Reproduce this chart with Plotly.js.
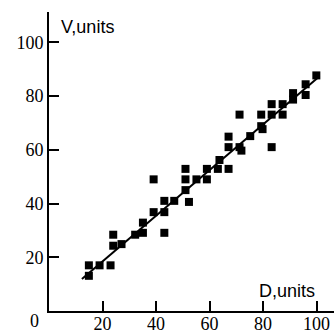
<!DOCTYPE html>
<html>
<head>
<meta charset="utf-8">
<script src="https://cdn.plot.ly/plotly-3.0.1.min.js"></script>
<style>html,body{margin:0;padding:0;background:#fff;}#chart{width:334px;height:333px;}</style>
</head>
<body>
<div id="chart"></div>
<script>
// Data
const dValues = [14.9, 18.9, 23.0, 14.9, 24.0, 24.0, 27.1, 32.2, 35.1, 35.1, 39.1, 39.1, 43.1, 43.1, 43.1, 46.8,
                 51.0, 51.0, 51.0, 52.3, 55.1, 59.0, 59.0, 63.1, 63.7, 67.1, 67.1, 67.1, 71.2, 71.9, 75.2, 79.3,
                 79.8, 83.2, 71.2, 79.3, 83.2, 83.2, 87.3, 87.3, 91.2, 91.2, 95.9, 95.9, 99.9];
const vValues = [17.0, 17.0, 17.0, 13.1, 28.4, 24.3, 24.9, 28.4, 32.9, 29.1, 49.0, 36.8, 41.0, 36.8, 29.1, 41.0,
                 52.9, 49.0, 45.0, 40.6, 49.0, 52.9, 49.0, 52.9, 56.2, 52.9, 61.0, 64.9, 61.0, 59.7, 65.1, 68.8,
                 67.7, 61.0, 73.1, 73.1, 73.1, 77.0, 77.0, 73.1, 81.1, 78.7, 84.4, 80.4, 87.7];
const fitD = [12.3, 101.1];
const fitV = [11.9, 87.4];
const tickValues = [20, 40, 60, 80, 100];
const xTitle = 'D,units';
const yTitle = 'V,units';
const originLabel = '0';

const traces = [
  {x: fitD, y: fitV, type: 'scatter', mode: 'lines', line: {color: '#000', width: 2}, hoverinfo: 'skip'},
  {x: dValues, y: vValues, type: 'scatter', mode: 'markers',
   marker: {symbol: 'square', size: 8, color: '#000', line: {width: 0}}}
];

const tickFont = {family: 'Liberation Serif', size: 18, color: '#000'};
const titleFont = {family: 'Liberation Sans', size: 18, color: '#000'};

const axisCommon = {
  showgrid: false, zeroline: false, showline: true, linecolor: '#000', linewidth: 2,
  ticks: 'inside', ticklen: 10, tickwidth: 2, tickcolor: '#000',
  tickmode: 'array', tickvals: tickValues, tickfont: tickFont, fixedrange: true
};

const layout = {
  width: 334, height: 333,
  margin: {l: 49, r: 0, t: 12, b: 22},
  paper_bgcolor: '#fff', plot_bgcolor: '#fff',
  showlegend: false,
  font: {family: 'Liberation Serif', color: '#000'},
  xaxis: Object.assign({}, axisCommon, {range: [0, 106.5], ticklabelstandoff: -5}),
  yaxis: Object.assign({}, axisCommon, {range: [0, 111.3]}),
  annotations: [
    {x: 3.9, y: 105.9, xref: 'x', yref: 'y', text: yTitle, showarrow: false, xanchor: 'left', yanchor: 'middle', font: titleFont},
    {x: 100, y: 7.3, xref: 'x', yref: 'y', text: xTitle, showarrow: false, xanchor: 'right', yanchor: 'middle', font: titleFont},
    {x: 0, y: 0, xref: 'x', yref: 'y', text: originLabel, showarrow: false, xanchor: 'right', yanchor: 'top', xshift: -9, yshift: 1, borderpad: 0, font: tickFont}
  ]
};

Plotly.newPlot('chart', traces, layout, {displayModeBar: false, staticPlot: true});
</script>
</body>
</html>
